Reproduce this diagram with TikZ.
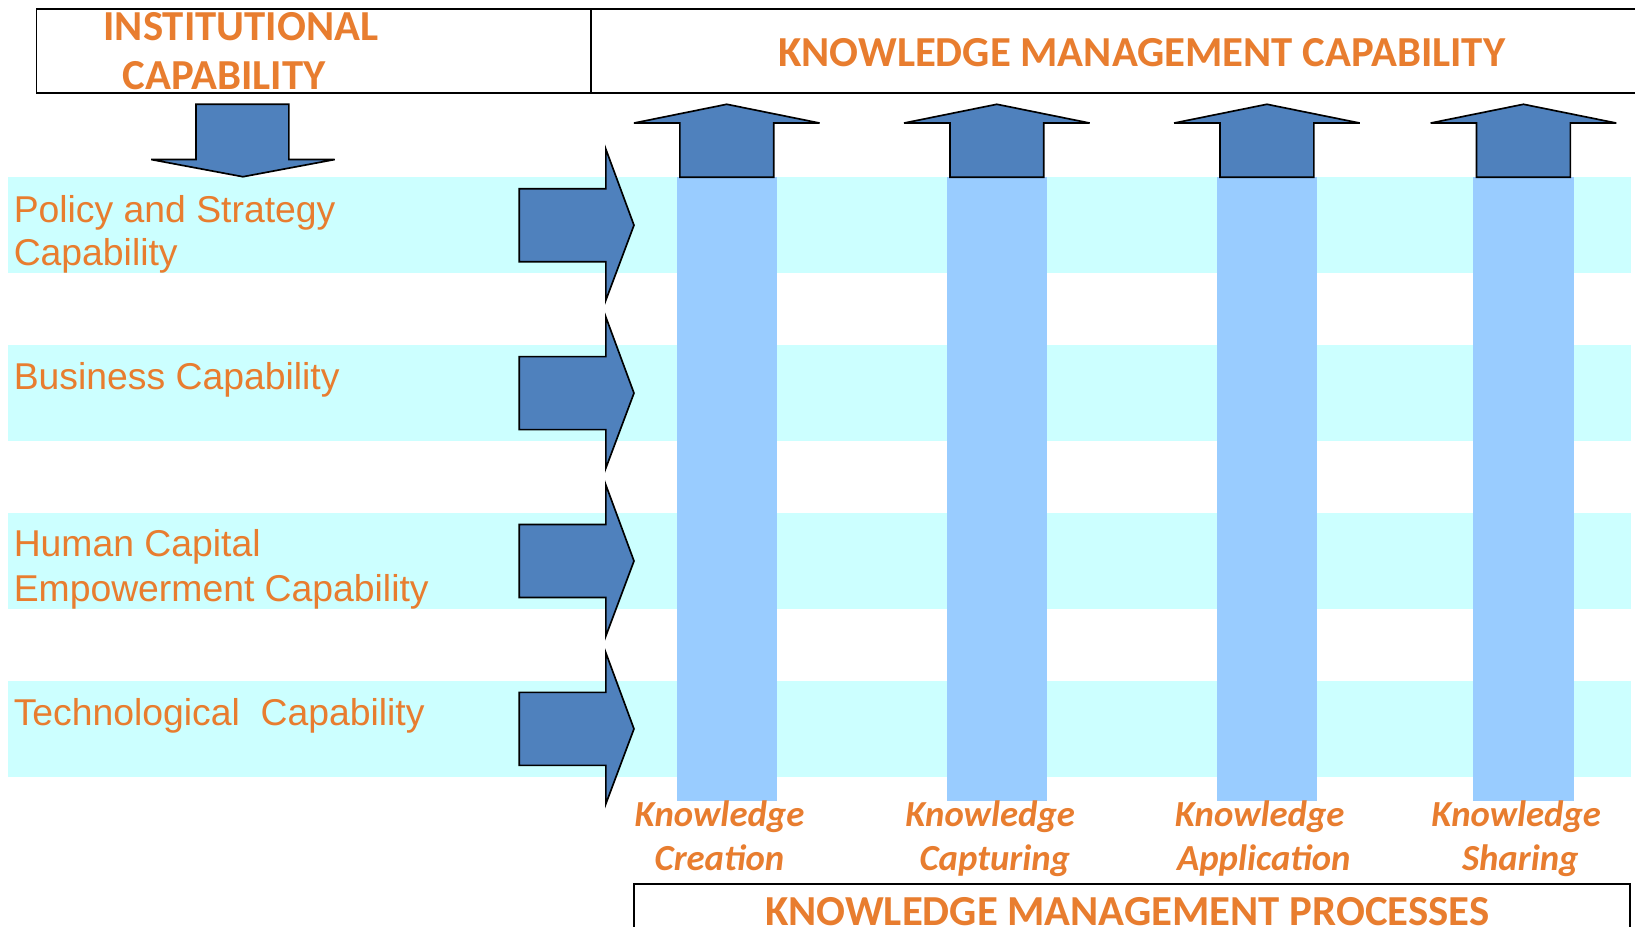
\documentclass[tikz,border=0pt]{standalone}
\usepackage{fontspec}
\setmainfont{Liberation Sans}
\newfontfamily\carlito{Carlito}
\definecolor{kmorange}{HTML}{E87D2F}
\definecolor{kmblue}{HTML}{4F81BD}
\definecolor{kmcolumn}{HTML}{99CCFF}
\definecolor{kmband}{HTML}{CCFFFF}
\begin{document}
\begin{tikzpicture}[x=1pt,y=-1pt,
  band/.style={fill=kmband},
  column/.style={fill=kmcolumn},
  blockarrow/.style={draw=black, fill=kmblue, line width=1.6pt, line join=miter},
  frame/.style={draw=black, line width=1.8pt},
  heading/.style={text=kmorange, font=\carlito\bfseries\fontsize{41}{48}\selectfont, inner sep=0pt, anchor=base},
  captext/.style={text=kmorange, font=\fontsize{35.8}{42}\selectfont, inner sep=0pt, anchor=base west},
  proclabel/.style={text=kmorange, font=\carlito\bfseries\itshape\fontsize{35.2}{42}\selectfont, inner sep=0pt, anchor=base},
]
\useasboundingbox (0,0) rectangle (1568,889);
\clip (0,0) rectangle (1568,889);
\fill[white] (0,0) rectangle (1568,889);

% capability bands
\foreach \t in {170,331,492,653}
  \fill[band] (8,\t) rectangle (1564,\t+92);

% knowledge process columns
\foreach \x in {697,956,1215,1461}
  \fill[column] (\x-48,170) rectangle (\x+48,768);

% upward arrows on top of the columns
\foreach \x in {697,956,1215,1461}
  \draw[blockarrow] (\x-89,118) -- (\x,100) -- (\x+89,118) -- (\x+45,118)
    -- (\x+45,170) -- (\x-45,170) -- (\x-45,118) -- cycle;

% downward arrow under the institutional heading
\draw[blockarrow] (188,100) -- (277,100) -- (277,153) -- (321,153)
  -- (233,169.5) -- (145,153) -- (188,153) -- cycle;

% rightward arrows from each band
\foreach \c in {216,377,538,699}
  \draw[blockarrow] (498,\c-35) -- (581,\c-35) -- (581,\c-73) -- (608,\c)
    -- (581,\c+72) -- (581,\c+35) -- (498,\c+35) -- cycle;

% heading frames
\draw[frame] (35,9) rectangle (1600,89);
\draw[frame] (567,9) -- (567,89);
\draw[frame] (608,848) rectangle (1563,920);

% headings
\node[heading] (inst1) at (231,38.4) {INSTITUTIONAL};
\node[heading] (inst2) at (215,86.3) {CAPABILITY};
\node[heading] (kmcap) at (1095,63.3) {KNOWLEDGE MANAGEMENT CAPABILITY};
\node[heading] (kmproc) at (1081,888) {KNOWLEDGE MANAGEMENT PROCESSES};

% band labels
\node[captext] (pol1) at (13,213) {Policy and Strategy};
\node[captext] (pol2) at (13,255) {Capability};
\node[captext] (bus) at (13,374) {Business Capability};
\node[captext] (hum1) at (13,534) {Human Capital};
\node[captext] (hum2) at (13,577) {Empowerment Capability};
\node[captext] (tech) at (13,696) {Technological\ \ Capability};

% process labels
\node[proclabel] (cre1) at (690,793) {Knowledge};
\node[proclabel] (cre2) at (690,835) {Creation};
\node[proclabel] (cap1) at (949.5,793) {Knowledge};
\node[proclabel] (cap2) at (954,835) {Capturing};
\node[proclabel] (app1) at (1208,793) {Knowledge};
\node[proclabel] (app2) at (1212,835) {Application};
\node[proclabel] (sha1) at (1454,793) {Knowledge};
\node[proclabel] (sha2) at (1458,835) {Sharing};
\end{tikzpicture}
\end{document}
